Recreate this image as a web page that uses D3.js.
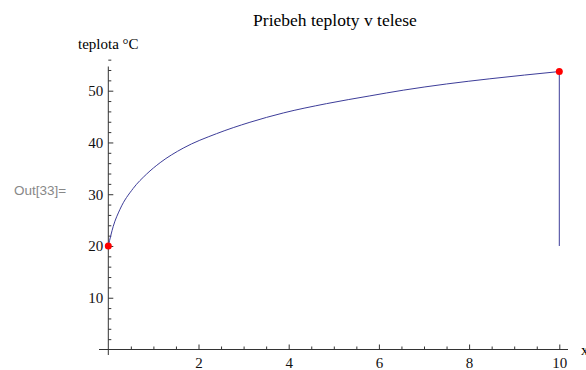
<!DOCTYPE html>
<html>
<head>
<meta charset="utf-8">
<script src="https://cdn.jsdelivr.net/npm/d3@7"></script>
<style>
  body { margin: 0; background: #fff; }
</style>
</head>
<body>
<div id="chart"></div>
<script>
// data: time (x) vs temperature (°C)
const timeVals = [0, 0.11, 0.26, 0.55, 0.85, 1.15, 1.66, 2.4, 3.14, 3.88, 4.84, 5.8, 6.54, 7.5, 8.46, 10];
const tempVals = [20, 23.8, 27.1, 31.1, 33.9, 36.1, 38.9, 41.7, 43.9, 45.7, 47.5, 49.0, 50.1, 51.3, 52.3, 53.7];
const xTicks = [2, 4, 6, 8, 10];
const yTicks = [10, 20, 30, 40, 50];
const xMinor = d3.range(0.5, 10.01, 0.5).filter(v => v % 2 !== 0);
const yMinor = d3.range(2, 57, 2).filter(v => v % 10 !== 0);
// end points marked in red, and the drop line at x = 10
const markTime = [0, 10];
const markTemp = [20, 53.7];
const dropFrom = 53.7, dropTo = 20;

const width = 586, height = 370;
const serif = "'Liberation Serif', 'Times New Roman', serif";

const svg = d3.select("#chart")
    .append("svg")
    .attr("width", width)
    .attr("height", height);

const x = d3.scaleLinear().domain([0, 10]).range([108.3, 559.3]);
const y = d3.scaleLinear().domain([0, 50]).range([349.5, 90.7]);

const axisColor = "#333";
const lineColor = "#3d3d99";

// axis lines (stretch a bit past the data range, Mathematica style)
svg.append("line")
    .attr("x1", 99).attr("x2", 568)
    .attr("y1", y(0)).attr("y2", y(0))
    .attr("stroke", axisColor);
svg.append("line")
    .attr("x1", x(0)).attr("x2", x(0))
    .attr("y1", 66.5).attr("y2", 355)
    .attr("stroke", axisColor);

// X axis: major + minor ticks drawn inward
svg.append("g")
    .attr("transform", `translate(0,${y(0)})`)
    .call(d3.axisBottom(x).tickValues(xTicks).tickSize(-5).tickPadding(8).tickFormat(d3.format("d")));
svg.append("g")
    .attr("transform", `translate(0,${y(0)})`)
    .call(d3.axisBottom(x).tickValues(xMinor).tickSize(-3).tickFormat(""));

// Y axis
svg.append("g")
    .attr("transform", `translate(${x(0)},0)`)
    .call(d3.axisLeft(y).tickValues(yTicks).tickSize(-5).tickPadding(5).tickFormat(d3.format("d")));
svg.append("g")
    .attr("transform", `translate(${x(0)},0)`)
    .call(d3.axisLeft(y).tickValues(yMinor).tickSize(-3).tickFormat(""));

svg.selectAll(".domain").remove();
svg.selectAll(".tick line").attr("stroke", axisColor);
svg.selectAll(".tick text")
    .attr("fill", "#111")
    .style("font-family", serif)
    .style("font-size", "15px");

// curve
const pts = timeVals.map((t, i) => [t, tempVals[i]]);
svg.append("path")
    .datum(pts)
    .attr("fill", "none")
    .attr("stroke", lineColor)
    .attr("stroke-width", 1)
    .attr("d", d3.line().x(d => x(d[0])).y(d => y(d[1])).curve(d3.curveMonotoneX));

// drop line at x = 10
svg.append("line")
    .attr("x1", x(10)).attr("x2", x(10))
    .attr("y1", y(dropFrom)).attr("y2", y(dropTo))
    .attr("stroke", lineColor)
    .attr("stroke-width", 1);

// red points
svg.selectAll("circle.mark")
    .data(markTime.map((t, i) => [t, markTemp[i]]))
    .join("circle")
    .attr("class", "mark")
    .attr("cx", d => x(d[0]))
    .attr("cy", d => y(d[1]))
    .attr("r", 3.5)
    .attr("fill", "#ff0000");

// titles and labels
svg.append("text")
    .attr("x", 335)
    .attr("y", 26)
    .attr("text-anchor", "middle")
    .style("font-family", serif)
    .style("font-size", "17.5px")
    .text("Priebeh teploty v telese");

svg.append("text")
    .attr("x", 78)
    .attr("y", 49)
    .style("font-family", serif)
    .style("font-size", "15px")
    .text("teplota °C");

svg.append("text")
    .attr("x", 581)
    .attr("y", 355)
    .style("font-family", serif)
    .style("font-size", "15px")
    .text("x");

svg.append("text")
    .attr("x", 14)
    .attr("y", 195)
    .attr("fill", "#888")
    .style("font-family", "'Liberation Sans', Arial, sans-serif")
    .style("font-size", "13.5px")
    .text("Out[33]=");
</script>
</body>
</html>
